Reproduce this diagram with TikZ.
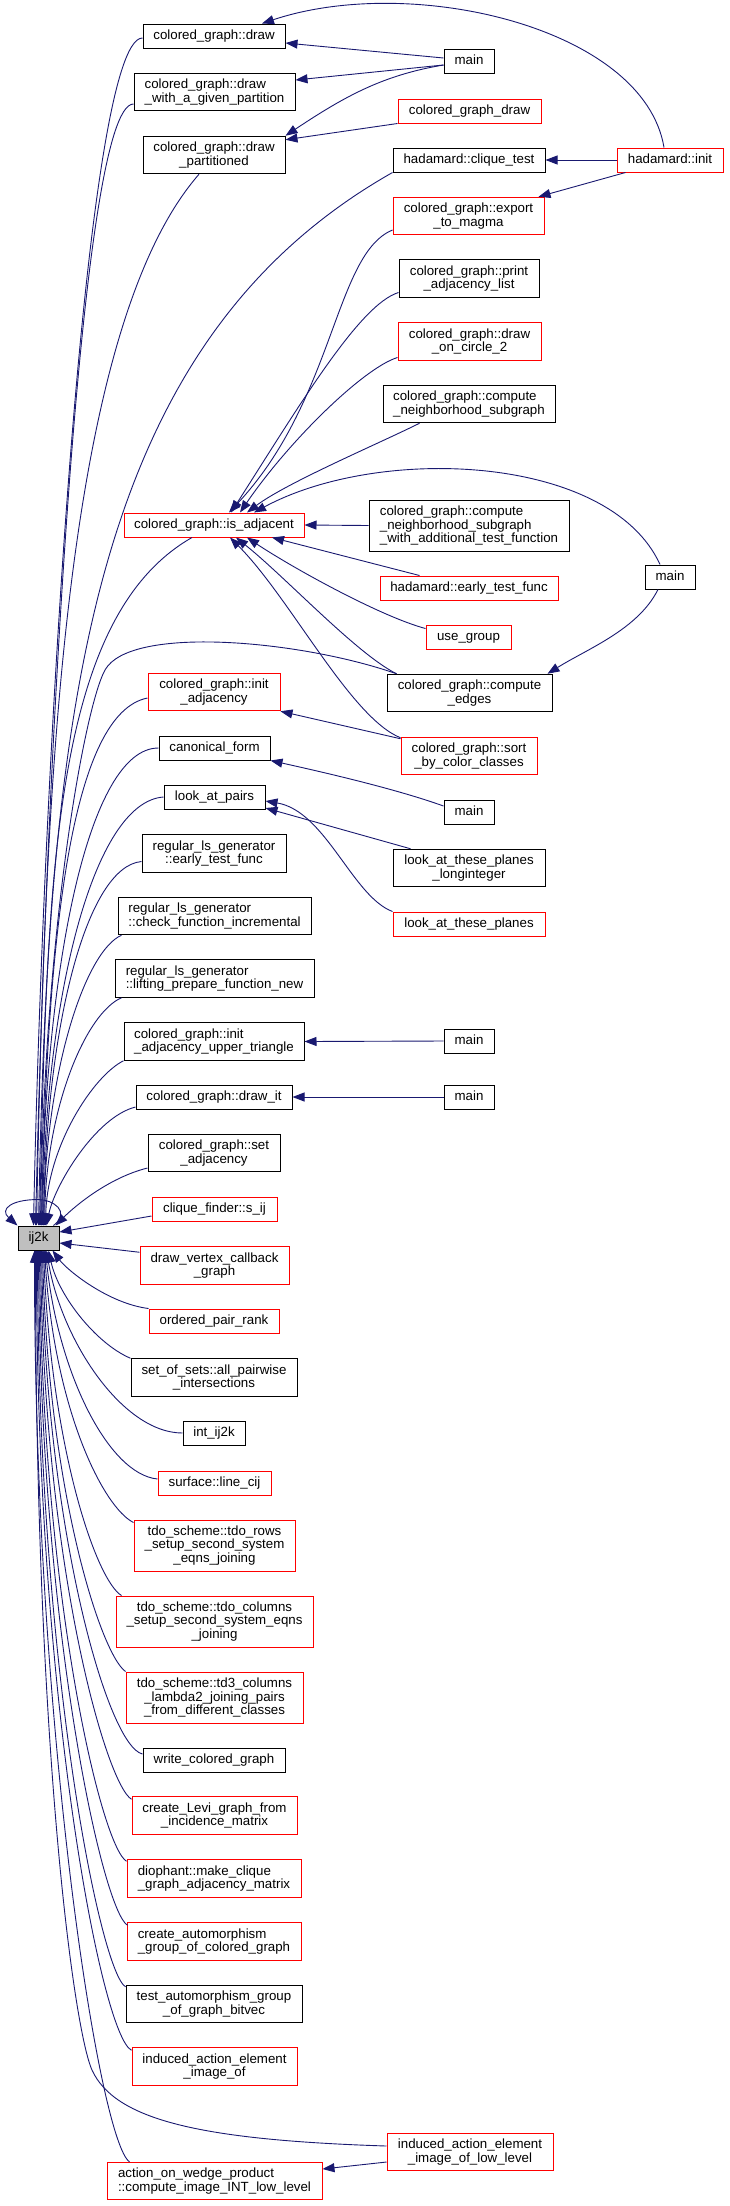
\documentclass[tikz,border=0pt]{standalone}
\usepackage{fontspec}
\setmainfont{Liberation Sans}
\usetikzlibrary{arrows.meta,calc}
\definecolor{edgeblue}{RGB}{25,25,112}
\definecolor{nodered}{RGB}{255,0,0}
\definecolor{ijgray}{RGB}{191,191,191}
\newcommand\fsz{\fontsize{13.3}{13.7}\selectfont}
\tikzset{
  box/.style={draw=black, line width=1pt, fill=white, inner sep=0pt, font=\fsz},
  rbox/.style={box, draw=nodered},
  one/.style={minimum height=24pt, text height=9.5pt, text depth=2.8pt},
  two/.style={minimum height=37.5pt, align=center},
  twol/.style={minimum height=37.5pt, align=left},
  three/.style={minimum height=51pt, align=center},
  threel/.style={minimum height=51pt, align=left},
  call/.style={draw=edgeblue, line width=0.9pt, -{Triangle[length=12pt,width=9pt]}},
}
\begin{document}
\begin{tikzpicture}[x=1pt,y=-1pt]
\useasboundingbox (0,0) rectangle (729,2206);
% ---------- nodes ----------
\node[box,one,minimum width=142pt] (cgdraw) at (214,36) {colored\_graph::draw};
\node[box,one,minimum width=50pt] (mainA) at (469,61) {main};
\node[box,twol,minimum width=161pt] (cgdw) at (214.5,92) {colored\_graph::draw\\\_with\_a\_given\_partition};
\node[rbox,one,minimum width=143pt] (cgdraw2) at (469.5,111) {colored\_graph\_draw};
\node[box,two,minimum width=142pt] (cgdp) at (214,155) {colored\_graph::draw\\\_partitioned};
\node[box,one,minimum width=152pt] (hct) at (469,160) {hadamard::clique\_test};
\node[rbox,one,minimum width=106pt] (hinit) at (670,160) {hadamard::init};
\node[rbox,two,minimum width=151pt] (export) at (468.5,216) {colored\_graph::export\\\_to\_magma};
\node[box,two,minimum width=140pt] (print) at (469,278.5) {colored\_graph::print\\\_adjacency\_list};
\node[rbox,two,minimum width=143pt] (circle) at (469.5,341.5) {colored\_graph::draw\\\_on\_circle\_2};
\node[box,twol,minimum width=172pt] (cnbhd) at (469,404) {colored\_graph::compute\\\_neighborhood\_subgraph};
\node[rbox,one,minimum width=180pt] (isadj) at (214,525) {colored\_graph::is\_adjacent};
\node[box,threel,minimum width=200pt] (cnadd) at (469,525.5) {colored\_graph::compute\\\_neighborhood\_subgraph\\\_with\_additional\_test\_function};
\node[rbox,one,minimum width=178pt] (hearly) at (469,588) {hadamard::early\_test\_func};
\node[rbox,one,minimum width=85pt] (usegroup) at (468.5,637) {use\_group};
\node[box,one,minimum width=50pt] (mainB) at (670,577) {main};
\node[box,two,minimum width=165pt] (cedges) at (469.5,693) {colored\_graph::compute\\\_edges};
\node[rbox,two,minimum width=132pt] (initadj) at (214,692) {colored\_graph::init\\\_adjacency};
\node[rbox,two,minimum width=136pt] (sort) at (469,756) {colored\_graph::sort\\\_by\_color\_classes};
\node[box,one,minimum width=111pt] (canon) at (214.5,748) {canonical\_form};
\node[box,one,minimum width=50pt] (mainC) at (469,812) {main};
\node[box,one,minimum width=101pt] (lap) at (214.5,797) {look\_at\_pairs};
\node[box,two,minimum width=144pt] (regearly) at (214,853.5) {regular\_ls\_generator\\::early\_test\_func};
\node[box,two,minimum width=152pt] (latl) at (469,868) {look\_at\_these\_planes\\\_longinteger};
\node[rbox,one,minimum width=152pt] (latp) at (469,924) {look\_at\_these\_planes};
\node[box,twol,minimum width=193pt] (regcheck) at (214.5,916) {regular\_ls\_generator\\::check\_function\_incremental};
\node[box,twol,minimum width=199pt] (reglift) at (214.5,978.5) {regular\_ls\_generator\\::lifting\_prepare\_function\_new};
\node[box,twol,minimum width=180pt] (uppertri) at (214,1041.5) {colored\_graph::init\\\_adjacency\_upper\_triangle};
\node[box,one,minimum width=50pt] (mainD) at (469,1041) {main};
\node[box,one,minimum width=156pt] (drawit) at (214,1097) {colored\_graph::draw\_it};
\node[box,one,minimum width=50pt] (mainE) at (469,1097) {main};
\node[box,two,minimum width=132pt] (setadj) at (214,1153) {colored\_graph::set\\\_adjacency};
\node[rbox,one,minimum width=125pt] (sij) at (214.5,1209) {clique\_finder::s\_ij};
\node[box,one,minimum width=41pt,fill=ijgray] (ij2k) at (38.5,1238) {ij2k};
\node[rbox,two,minimum width=149pt] (dvc) at (214.5,1265.5) {draw\_vertex\_callback\\\_graph};
\node[rbox,one,minimum width=130pt] (opr) at (214,1321) {ordered\_pair\_rank};
\node[box,two,minimum width=166pt] (sos) at (214,1377.5) {set\_of\_sets::all\_pairwise\\\_intersections};
\node[box,one,minimum width=62pt] (intij) at (214,1433) {int\_ij2k};
\node[rbox,one,minimum width=113pt] (linecij) at (214.5,1483) {surface::line\_cij};
\node[rbox,three,minimum width=161pt] (tdorows) at (214.5,1545.5) {tdo\_scheme::tdo\_rows\\\_setup\_second\_system\\\_eqns\_joining};
\node[rbox,three,minimum width=197pt] (tdocols) at (214.5,1621.5) {tdo\_scheme::tdo\_columns\\\_setup\_second\_system\_eqns\\\_joining};
\node[rbox,three,minimum width=177pt] (td3) at (214.5,1697.5) {tdo\_scheme::td3\_columns\\\_lambda2\_joining\_pairs\\\_from\_different\_classes};
\node[box,one,minimum width=142pt] (writecg) at (214,1760) {write\_colored\_graph};
\node[rbox,two,minimum width=165pt] (levi) at (214.5,1815.5) {create\_Levi\_graph\_from\\\_incidence\_matrix};
\node[rbox,twol,minimum width=174pt] (dioph) at (214,1878.5) {diophant::make\_clique\\\_graph\_adjacency\_matrix};
\node[rbox,twol,minimum width=174pt] (cauto) at (214,1941.5) {create\_automorphism\\\_group\_of\_colored\_graph};
\node[box,two,minimum width=176pt] (tauto) at (214,2004) {test\_automorphism\_group\\\_of\_graph\_bitvec};
\node[rbox,two,minimum width=165pt] (indof) at (214.5,2066.5) {induced\_action\_element\\\_image\_of};
\node[rbox,two,minimum width=166pt] (indlow) at (470,2152) {induced\_action\_element\\\_image\_of\_low\_level};
\node[rbox,twol,minimum width=215pt] (wedge) at (214.5,2181) {action\_on\_wedge\_product\\::compute\_image\_INT\_low\_level};
% ---------- callers of rank-1 nodes ----------
\draw[call] ([shift={(0,-3)}]mainA.west) -- ([shift={(0,7)}]cgdraw.east);
\draw[call] ([shift={(0,4)}]mainA.west) -- ([shift={(0,-12)}]cgdw.east);
\draw[call] ([shift={(0,4)}]mainA.west) .. controls +(-60,10) and +(60,-40) .. (cgdp.north east);
\draw[call] (cgdraw2.south west) -- ([shift={(0,4)}]cgdp.north east);
\draw[call] ([shift={(-6,0)}]hinit.north) .. controls +(-20,-120) and +(150,-50) .. ([shift={(48,0)}]cgdraw.north);
\draw[call] (hinit.west) -- (hct.east);
\draw[call] ([shift={(9,0)}]hinit.south west) -- ([shift={(-6,0)}]export.north east);
% into is_adjacent
\draw[call] ([shift={(0,14)}]export.west) .. controls +(-58,24) and +(106,-113) .. ([shift={(15,0)}]isadj.north);
\draw[call] ([shift={(0,14)}]print.west) .. controls +(-39,12) and +(69,-108) .. ([shift={(17,0)}]isadj.north);
\draw[call] ([shift={(0,16)}]circle.west) .. controls +(-33,10) and +(50,-73) .. ([shift={(26,0)}]isadj.north);
\draw[call] ([shift={(37,0)}]cnbhd.south west) .. controls +(-40,20) and +(40,-30) .. ([shift={(33,0)}]isadj.north);
\draw[call] ([shift={(-10,0)}]mainB.north) .. controls +(-50,-110) and +(126,-68) .. ([shift={(40,0)}]isadj.north);
\draw[call] (cnadd.west) -- (isadj.east);
\draw[call] ([shift={(40,0)}]hearly.north west) -- ([shift={(58,0)}]isadj.south);
\draw[call] ([shift={(0,4)}]usegroup.north west) .. controls +(-45,-12) and +(45,30) .. ([shift={(33,0)}]isadj.south);
\draw[call] ([shift={(10,0)}]cedges.north west) .. controls +(-40,-20) and +(50,40) .. ([shift={(22,0)}]isadj.south);
\draw[call] ([shift={(0,1)}]sort.north west) .. controls +(-50,-20) and +(60,60) .. ([shift={(16,0)}]isadj.south);
\draw[call] ([shift={(-12,0)}]mainB.south) .. controls +(-20,40) and +(40,-25) .. ([shift={(-5,0)}]cedges.north east);
\draw[call] ([shift={(0,2)}]sort.north west) -- (initadj.south east);
% look_at_pairs and others
\draw[call] ([shift={(0,-6)}]mainC.west) .. controls +(-50,-18) and +(45,10) .. (canon.south east);
\draw[call] ([shift={(18,0)}]latl.north west) -- ([shift={(0,11)}]lap.east);
\draw[call] (latp.north west) .. controls +(-40,-15) and +(60,10) .. ([shift={(0,4)}]lap.east);
\draw[call] (mainD.west) -- (uppertri.east);
\draw[call] (mainE.west) -- (drawit.east);
\draw[call] ([shift={(0,10)}]indlow.west) -- ([shift={(0,-12)}]wedge.east);
% ---------- into ij2k from above ----------
\draw[call] ([shift={(0,2)}]cgdraw.west) .. controls +(-60,0) and +(8,-400) .. ([shift={(-5,0)}]ij2k.north);
\draw[call] ([shift={(0,12)}]cgdw.west) .. controls +(-55,0) and +(10,-420) .. ([shift={(-3,0)}]ij2k.north);
\draw[call] ([shift={(-15,0)}]cgdp.south) .. controls +(-140,160) and +(8,-400) .. ([shift={(-2,0)}]ij2k.north);
\draw[call] (hct.south west) .. controls +(-300,170) and +(10,-526) .. (ij2k.north);
\draw[call] ([shift={(-22,0)}]isadj.south) .. controls +(-140,80) and +(8,-350) .. ([shift={(1,0)}]ij2k.north);
\draw[call] ([shift={(10,0)}]cedges.north west) .. controls (300,640) and (130,625) .. (105,670) .. controls +(-20,36) and +(4,-300) .. ([shift={(2,0)}]ij2k.north);
\draw[call] ([shift={(0,6)}]initadj.west) .. controls +(-75,15) and +(6,-300) .. ([shift={(3,0)}]ij2k.north);
\draw[call] (canon.west) .. controls +(-70,0) and +(4,-260) .. ([shift={(3,0)}]ij2k.north);
\draw[call] (lap.west) .. controls +(-70,5) and +(3,-230) .. ([shift={(4,0)}]ij2k.north);
\draw[call] ([shift={(0,8)}]regearly.west) .. controls +(-55,5) and +(3,-200) .. ([shift={(5,0)}]ij2k.north);
\draw[call] ([shift={(4,0)}]regcheck.south west) .. controls +(-35,15) and +(3,-160) .. ([shift={(5,0)}]ij2k.north);
\draw[call] ([shift={(7,0)}]reglift.south west) .. controls +(-35,15) and +(2,-120) .. ([shift={(6,0)}]ij2k.north);
\draw[call] (uppertri.south west) .. controls +(-30,15) and +(2,-80) .. ([shift={(7,0)}]ij2k.north);
\draw[call] ([shift={(0,10)}]drawit.west) .. controls +(-40,10) and +(8,-40) .. ([shift={(8,0)}]ij2k.north);
\draw[call] ([shift={(0,15)}]setadj.west) .. controls +(-40,10) and +(18,-18) .. ([shift={(-4,0)}]ij2k.north east);
% self loop
\draw[call] ([shift={(-6,0)}]ij2k.north east) .. controls +(18,-14) and +(14,0) .. ([shift={(0,-26)}]ij2k.north) .. controls +(-28,0) and +(-18,-16) .. (ij2k.north west);
% from the right
\draw[call] ([shift={(0,7)}]sij.west) -- ([shift={(0,-6)}]ij2k.east);
\draw[call] ([shift={(0,6)}]dvc.north west) -- ([shift={(0,5)}]ij2k.east);
\draw[call] (opr.north west) .. controls +(-40,-5) and +(15,20) .. ([shift={(-7,0)}]ij2k.south east);
% ---------- into ij2k from below ----------
\draw[call] (sos.north west) .. controls +(-35,-15) and +(10,45) .. ([shift={(10,0)}]ij2k.south);
\draw[call] (intij.west) .. controls +(-60,0) and +(15,90) .. ([shift={(8,0)}]ij2k.south);
\draw[call] ([shift={(0,-4)}]linecij.west) .. controls +(-50,-5) and +(12,120) .. ([shift={(7,0)}]ij2k.south);
\draw[call] ([shift={(0,3)}]tdorows.north west) .. controls +(-30,-15) and +(10,160) .. ([shift={(6,0)}]ij2k.south);
\draw[call] ([shift={(6,0)}]tdocols.north west) .. controls +(-25,-15) and +(8,200) .. ([shift={(5,0)}]ij2k.south);
\draw[call] (td3.north west) .. controls +(-25,-18) and +(6,240) .. ([shift={(4,0)}]ij2k.south);
\draw[call] ([shift={(0,-6)}]writecg.west) .. controls +(-35,-8) and +(5,280) .. ([shift={(3,0)}]ij2k.south);
\draw[call] ([shift={(0,3)}]levi.north west) .. controls +(-25,-15) and +(4,320) .. ([shift={(2,0)}]ij2k.south);
\draw[call] ([shift={(0,2)}]dioph.north west) .. controls +(-25,-15) and +(3,350) .. ([shift={(1,0)}]ij2k.south);
\draw[call] ([shift={(1,3)}]cauto.north west) .. controls +(-25,-15) and +(2,380) .. (ij2k.south);
\draw[call] ([shift={(0,2)}]tauto.north west) .. controls +(-25,-15) and +(1,420) .. ([shift={(-1,0)}]ij2k.south);
\draw[call] ([shift={(0,3)}]indof.north west) .. controls +(-30,-15) and +(0,450) .. ([shift={(-2,0)}]ij2k.south);
\draw[call] ([shift={(0,-6)}]indlow.west) .. controls (200,2140) and (115,2120) .. (92,2070) .. controls +(-18,-40) and +(0,500) .. ([shift={(-3,0)}]ij2k.south);
\draw[call] ([shift={(23,0)}]wedge.north west) .. controls +(-30,-20) and +(0,480) .. ([shift={(-4,0)}]ij2k.south);
\end{tikzpicture}
\end{document}
